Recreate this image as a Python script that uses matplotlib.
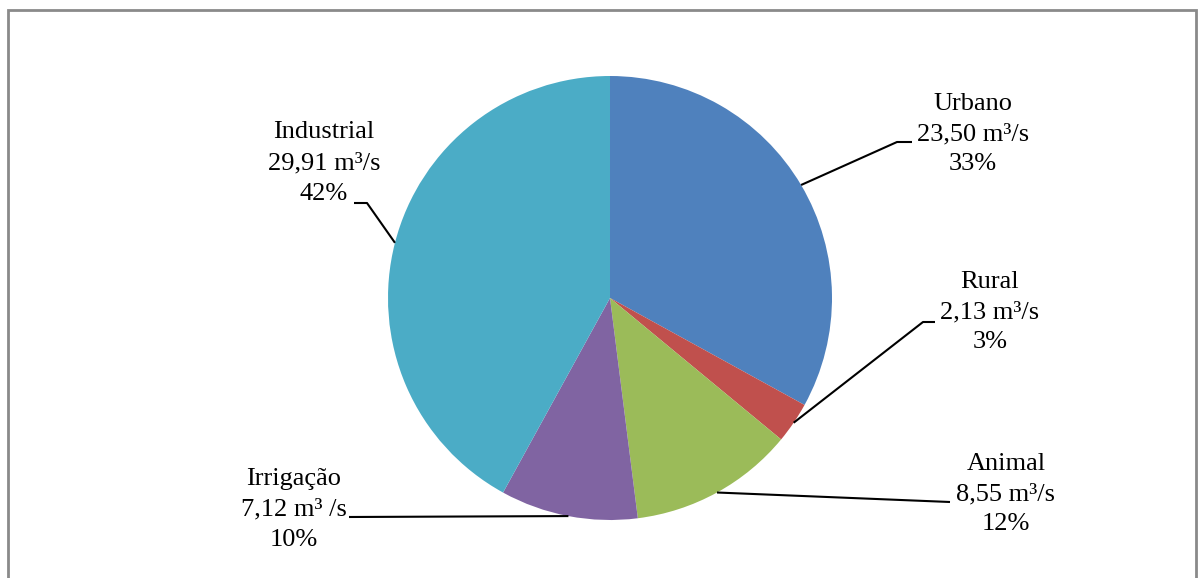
import numpy as np
import matplotlib
matplotlib.use('Agg')
from matplotlib import pyplot as plt
from matplotlib.patches import Rectangle

plt.rcParams['font.family'] = ['Liberation Serif', 'DejaVu Serif']

categories = ['Urbano', 'Rural', 'Animal', 'Irrigação', 'Industrial']
values = [23.50, 2.13, 8.55, 7.12, 29.91]
flow_labels = ['23,50 m³/s', '2,13 m³/s', '8,55 m³/s', '7,12 m³ /s', '29,91 m³/s']
pct_labels = ['33%', '3%', '12%', '10%', '42%']
colors = ['#4F81BD', '#C0504D', '#9BBB59', '#8064A2', '#4BACC6']

W, H = 1202, 578
fig = plt.figure(figsize=(W / 100, H / 100), dpi=100)
ax = fig.add_axes([0, 0, 1, 1])
ax.set_xlim(0, W)
ax.set_ylim(0, H)
ax.set_aspect('equal')
ax.axis('off')

# outer chart frame (bottom runs off the image)
ax.add_patch(Rectangle((8, -20), 1188, H - 10 + 20, fill=False,
                       edgecolor='#8a8a8a', linewidth=2))

cx, cy, r = 610, H - 298, 222
wedges, _ = ax.pie(values, colors=colors, startangle=90, counterclock=False,
                   center=(cx, cy), radius=r, frame=True,
                   wedgeprops=dict(linewidth=0))
ax.set_xlim(0, W)
ax.set_ylim(0, H)
ax.axis('off')

# label centres and leader line bends (pixel coords, y measured from top)
text_pos = [(973, 134), (990, 312), (1006, 494), (294, 509), (324, 163)]
bends = [[(897, 142), (912, 142)],
         [(923, 322), (935, 322)],
         [(950, 502)],
         [(349, 517)],
         [(367, 203), (354, 203)]]

for w, name, fl, pc, (tx, ty), bend in zip(wedges, categories, flow_labels,
                                           pct_labels, text_pos, bends):
    mid = np.deg2rad((w.theta1 + w.theta2) / 2)
    ax0 = cx + r * np.cos(mid)
    ay0 = cy + r * np.sin(mid)
    xs = [ax0] + [b[0] for b in bend]
    ys = [ay0] + [H - b[1] for b in bend]
    ax.plot(xs, ys, color='black', linewidth=1.5, solid_capstyle='butt')
    ax.text(tx, H - ty, f'{name}\n{fl}\n{pc}', ha='center', va='center',
            fontsize=19, linespacing=1.5, color='black')

fig.savefig('out.png', dpi=100)
